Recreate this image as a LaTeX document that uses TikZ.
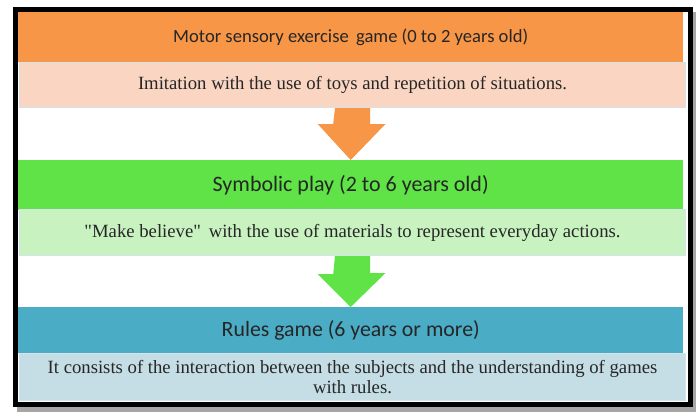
\documentclass[tikz,border=0pt]{standalone}
\usepackage{fontspec}
\setmainfont{Liberation Serif}[Ligatures=TeXOff]
\newfontfamily\hdfont{Carlito}
\definecolor{orangeD}{HTML}{F79646}
\definecolor{orangeL}{HTML}{FAD5C2}
\definecolor{greenD}{HTML}{5FE346}
\definecolor{greenL}{HTML}{C9F2C1}
\definecolor{blueD}{HTML}{4BACC6}
\definecolor{blueL}{HTML}{C5DEE6}
\definecolor{edgeL}{HTML}{D3E3EA}
\begin{document}
\begin{tikzpicture}[x=1pt,y=-1pt,
  hdr/.style={fill=#1,draw=none,minimum width=665pt,minimum height=50pt,inner sep=0pt,anchor=north west,font=\hdfont\fontsize{18.6}{22}\selectfont,text=black!85},
  bdy/.style={fill=#1,draw=edgeL,line width=1pt,minimum width=666pt,inner sep=0pt,anchor=north west,align=center,font=\fontsize{18.7}{20}\selectfont,text=black!85},
  arr/.style={fill=#1,draw=none}]
\useasboundingbox (0,0) rectangle (696,413);
% shadow and frame
\fill[black!35] (17,12) rectangle (696,412);
\fill[white] (10,5) rectangle (690,406);
\draw[black,line width=5pt] (15.5,9.5) rectangle (690.5,404.5);
% boxes
\node[hdr=orangeD] (h1) at (18,12) {Motor sensory exercise\, game (0 to 2 years old)};
\node[bdy=orangeL,minimum height=45pt] (b1) at (19,62) {Imitation with the use of toys and repetition of situations.};
\node[hdr=greenD,font=\hdfont\fontsize{22}{24}\selectfont] (h2) at (18,160) {Symbolic play (2 to 6 years old)};
\node[bdy=greenL,minimum height=46pt] (b2) at (19,209) {"Make believe"\, with the use of materials to represent everyday actions.};
\node[hdr=blueD,minimum height=46pt,font=\hdfont\fontsize{21.8}{24}\selectfont] (h3) at (18,307) {Rules game (6 years or more)};
\node[bdy=blueL,minimum height=47pt,font=\fontsize{18.7}{20}\selectfont] (b3) at (19,353) {It consists of the interaction between the subjects and the understanding of games\\with rules.};
% arrows
\fill[orangeD] ([xshift=-17.5pt]b1.south) -- ([xshift=17.5pt]b1.south) -- ++(0,16) -- ++(15.5,0) -- (h2.north) -- ++(-33,-36) -- ++(15.5,0) -- cycle;
\fill[greenD] ([xshift=-17.5pt]b2.south) -- ([xshift=17.5pt]b2.south) -- ++(0,17) -- ++(15.5,0) -- (h3.north) -- ++(-33,-33) -- ++(15.5,0) -- cycle;
\end{tikzpicture}
\end{document}
